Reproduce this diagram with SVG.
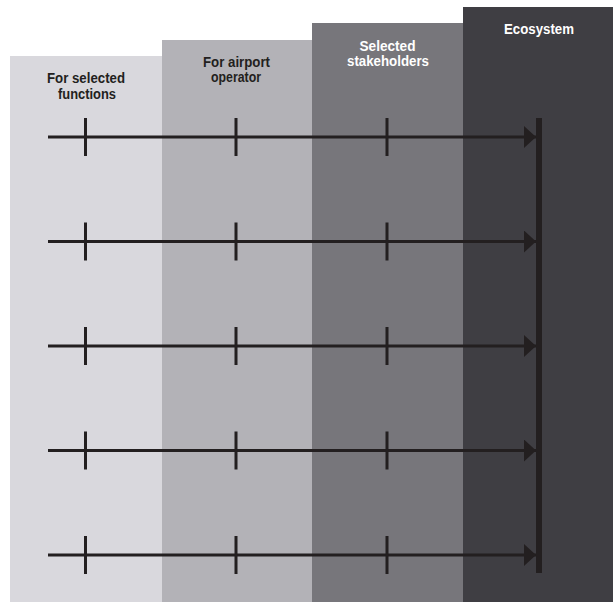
<svg xmlns="http://www.w3.org/2000/svg" width="613" height="602" viewBox="0 0 613 602">
<style>
.lbl{font-family:"Liberation Sans",Arial,sans-serif;font-weight:bold;font-size:14px;text-anchor:middle}
.dk{fill:#231f20}
.wt{fill:#ffffff}
.ln{stroke:#231f20;stroke-width:3;fill:none}
</style>
<defs>
<marker id="ah" markerUnits="userSpaceOnUse" markerWidth="14" markerHeight="22" refX="12" refY="11" orient="auto">
<path d="M0,0 L12,11 L0,22 Z" fill="#231f20"/>
</marker>
</defs>
<rect width="613" height="602" fill="#ffffff"/>
<g id="col-functions">
<rect x="10" y="56" width="152" height="546" fill="#d9d8dd"/>
<text class="lbl dk" x="86" y="83" textLength="78" lengthAdjust="spacingAndGlyphs">For selected</text>
<text class="lbl dk" x="87" y="99" textLength="58" lengthAdjust="spacingAndGlyphs">functions</text>
</g>
<g id="col-operator">
<rect x="162" y="40" width="150" height="562" fill="#b3b2b7"/>
<text class="lbl dk" x="236.5" y="66.5" textLength="67" lengthAdjust="spacingAndGlyphs">For airport</text>
<text class="lbl dk" x="236" y="81.5" textLength="50" lengthAdjust="spacingAndGlyphs">operator</text>
</g>
<g id="col-stakeholders">
<rect x="312" y="23" width="151" height="579" fill="#77767b"/>
<text class="lbl wt" x="387.5" y="50.5" textLength="56" lengthAdjust="spacingAndGlyphs">Selected</text>
<text class="lbl wt" x="388" y="65.5" textLength="82" lengthAdjust="spacingAndGlyphs">stakeholders</text>
</g>
<g id="col-ecosystem">
<rect x="463" y="7" width="150" height="595" fill="#3f3e43"/>
<text class="lbl wt" x="539" y="34" textLength="70" lengthAdjust="spacingAndGlyphs">Ecosystem</text>
</g>
<g id="connectors">
<path class="ln" d="M48,137 H536" marker-end="url(#ah)"/>
<path class="ln" d="M48,241.5 H536" marker-end="url(#ah)"/>
<path class="ln" d="M48,346 H536" marker-end="url(#ah)"/>
<path class="ln" d="M48,450.5 H536" marker-end="url(#ah)"/>
<path class="ln" d="M48,555 H536" marker-end="url(#ah)"/>
<path class="ln" d="M85.5,118V156 M236,118V156 M387,118V156"/>
<path class="ln" d="M85.5,222.5V260.5 M236,222.5V260.5 M387,222.5V260.5"/>
<path class="ln" d="M85.5,327V365 M236,327V365 M387,327V365"/>
<path class="ln" d="M85.5,431.5V469.5 M236,431.5V469.5 M387,431.5V469.5"/>
<path class="ln" d="M85.5,536V574 M236,536V574 M387,536V574"/>
<rect x="536" y="118" width="6" height="455" fill="#231f20"/>
</g>
</svg>
